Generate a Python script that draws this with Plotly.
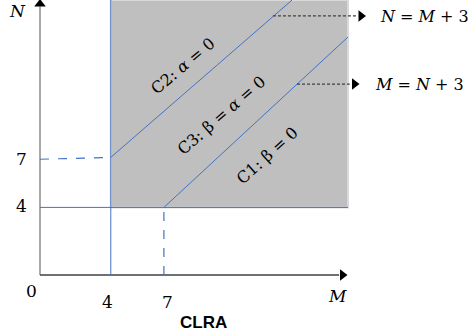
import plotly.graph_objects as go

# ---- data (in M, N units) ----
M_ticks = [0, 4, 7]
N_ticks = [4, 7]

region_M = [4, 17.4]          # shaded region, M from .. to
region_N = [4, 16.27]         # shaded region, N from .. to

c2_M = [4, 14.24]             # boundary N = M + 3
c2_N = [6.96, 16.27]
c1_M = [7, 17.4]              # boundary M = N + 3
c1_N = [4, 14.08]

dash7_M = [0, 4]              # dashed guide at N = 7
dash7_N = [6.85, 6.96]
dashM7_M = [7, 7]             # dashed guide at M = 7
dashM7_N = [0, 4]

arrow1_M = [13.16, 17.9]      # call-out arrow to "N = M + 3"
arrow1_N = [15.33, 15.33]
arrow2_M = [14.52, 17.5]      # call-out arrow to "M = N + 3"
arrow2_N = [11.30, 11.30]

xaxis_M = [0, 16.9]
yaxis_N = [0, 15.9]

# pixel scale helpers for label placement
SX, SY, X0, Y0 = 17.7, 16.9, 40, 275
def px(x, y):
    return (x - X0) / SX, (Y0 - y) / SY

BLUE = "#4472C4"
SERIF = "DejaVu Serif"

fig = go.Figure()

# shaded region
fig.add_trace(go.Scatter(
    x=[region_M[0], region_M[1], region_M[1], region_M[0], region_M[0]],
    y=[region_N[0], region_N[0], region_N[1], region_N[1], region_N[0]],
    fill="toself", fillcolor="#BFBFBF", mode="lines",
    line=dict(color="#D9D9D9", width=2), hoverinfo="skip", showlegend=False))

# axes
fig.add_trace(go.Scatter(x=[0, 0], y=yaxis_N, mode="lines",
                         line=dict(color="#8C8C8C", width=1.5), showlegend=False))
fig.add_trace(go.Scatter(x=xaxis_M, y=[0, 0], mode="lines",
                         line=dict(color="#404040", width=1.5), showlegend=False))
fig.add_trace(go.Scatter(x=[0], y=[px(40, 4)[1]], mode="markers",
                         marker=dict(symbol="triangle-up", size=10, color="black"),
                         showlegend=False, cliponaxis=False))
fig.add_trace(go.Scatter(x=[px(342.5, 0)[0]], y=[0], mode="markers",
                         marker=dict(symbol="triangle-right", size=10, color="black"),
                         showlegend=False, cliponaxis=False))

# blue solid lines
fig.add_trace(go.Scatter(x=[M_ticks[1], M_ticks[1]], y=[0, region_N[1]], mode="lines",
                         line=dict(color=BLUE, width=1), showlegend=False, cliponaxis=False))
fig.add_trace(go.Scatter(x=[0, region_M[1]], y=[N_ticks[0], N_ticks[0]], mode="lines",
                         line=dict(color=BLUE, width=1), showlegend=False))
fig.add_trace(go.Scatter(x=c2_M, y=c2_N, mode="lines",
                         line=dict(color=BLUE, width=1), showlegend=False, cliponaxis=False))
fig.add_trace(go.Scatter(x=c1_M, y=c1_N, mode="lines",
                         line=dict(color=BLUE, width=1), showlegend=False))

# blue dashed guides
fig.add_trace(go.Scatter(x=dash7_M, y=dash7_N, mode="lines",
                         line=dict(color=BLUE, width=1.2, dash="dash"), showlegend=False))
fig.add_trace(go.Scatter(x=dashM7_M, y=dashM7_N, mode="lines",
                         line=dict(color=BLUE, width=1.2, dash="dash"), showlegend=False))

# call-out arrows
for am, an in [(arrow1_M, arrow1_N), (arrow2_M, arrow2_N)]:
    fig.add_trace(go.Scatter(x=am, y=an, mode="lines",
                             line=dict(color="#404040", width=1.2, dash="3px,2px"),
                             showlegend=False))
fig.add_trace(go.Scatter(x=[px(361, 0)[0], px(354.5, 0)[0]], y=[arrow1_N[0], arrow2_N[0]],
                         mode="markers",
                         marker=dict(symbol="triangle-right", size=10, color="black"),
                         showlegend=False))

ann = []
def add_text(x, y, text, size=17, family=SERIF, angle=0, xanchor="center", color="black"):
    mx, ny = px(x, y)
    ann.append(dict(x=mx, y=ny, xref="x", yref="y", text=text, showarrow=False,
                    font=dict(family=family, size=size, color=color),
                    textangle=angle, xanchor=xanchor, yanchor="middle"))

add_text(378, 16, "<i>N</i> = <i>M</i> + 3", size=16, xanchor="left")
add_text(373, 84, "<i>M</i> = <i>N</i> + 3", size=16, xanchor="left")
add_text(17, 11, "<i>N</i>", size=17)
add_text(337, 296, "<i>M</i>", size=17)
add_text(21, 159, str(N_ticks[1]), size=17)
add_text(21, 206, str(N_ticks[0]), size=17)
add_text(31, 291, str(M_ticks[0]), size=17)
add_text(107, 302, str(M_ticks[1]), size=17)
add_text(167, 302, str(M_ticks[2]), size=17)
add_text(203, 322, "<b>CLRA</b>", size=17, family="Liberation Sans")
add_text(182, 66, "C2: <i>α</i> = 0", size=16, angle=-40)
add_text(221, 115, "C3: β = <i>α</i> = 0", size=16, angle=-41)
add_text(267, 155, "C1: β = 0", size=16, angle=-42)

fig.update_layout(
    width=469, height=335, margin=dict(l=0, r=0, t=0, b=0),
    plot_bgcolor="white", paper_bgcolor="white",
    xaxis=dict(range=[px(0, 0)[0], px(469, 0)[0]], visible=False, fixedrange=True),
    yaxis=dict(range=[px(0, 335)[1], px(0, 0)[1]], visible=False, fixedrange=True),
    annotations=ann, showlegend=False, hovermode=False,
)

fig.write_html("out.html", config={"displayModeBar": False},
               post_script="document.body.style.margin='0';")
